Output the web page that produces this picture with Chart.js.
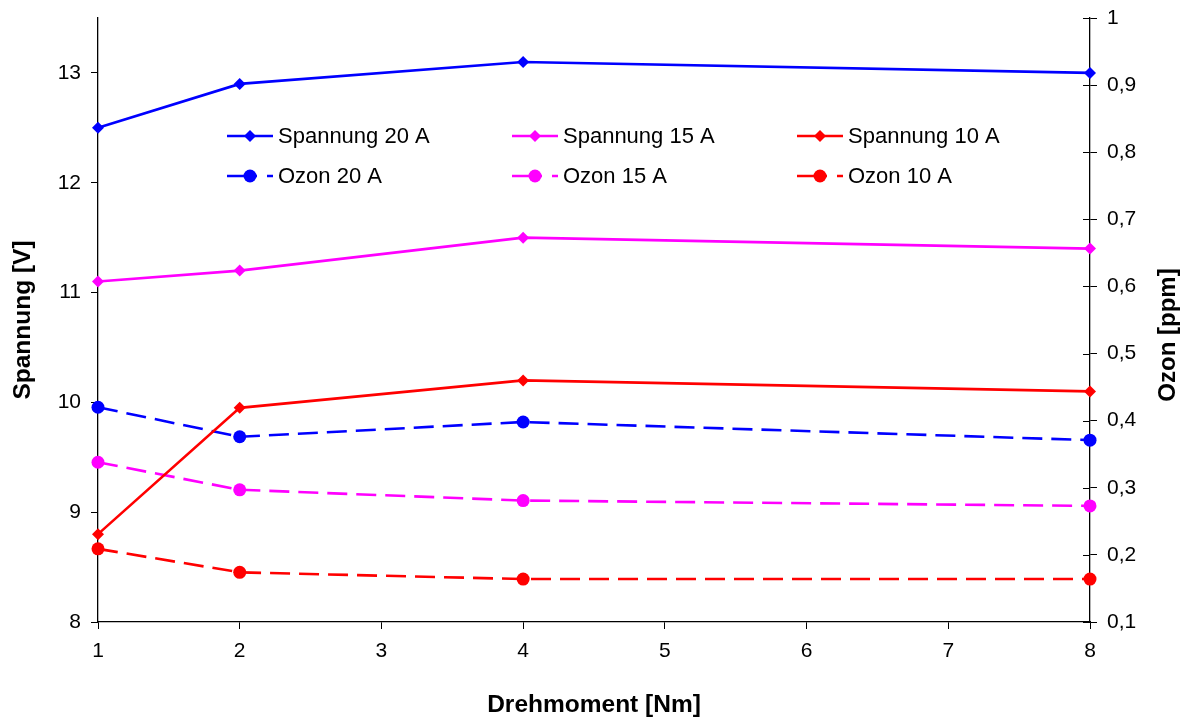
<!DOCTYPE html>
<html>
<head>
<meta charset="utf-8">
<script src="https://cdn.jsdelivr.net/npm/chart.js@4/dist/chart.umd.min.js"></script>
<style>
  html, body { margin: 0; padding: 0; background: #fff; }
  #wrap { width: 1184px; height: 719px; position: relative; }
</style>
</head>
<body>
<div id="wrap"><canvas id="c"></canvas></div>
<script>
// Torque steps (Nm)
const torque = [1, 2, 4, 8];

// Voltage (V), left axis
const spannung20 = [12.5, 12.9, 13.1, 13.0];
const spannung15 = [11.1, 11.2, 11.5, 11.4];
const spannung10 = [8.8, 9.95, 10.2, 10.1];

// Ozone (ppm), right axis
const ozon20 = [0.42, 0.376, 0.398, 0.371];
const ozon15 = [0.338, 0.297, 0.281, 0.273];
const ozon10 = [0.209, 0.174, 0.164, 0.164];

const seriesNames = ['Spannung 20 A', 'Spannung 15 A', 'Spannung 10 A', 'Ozon 20 A', 'Ozon 15 A', 'Ozon 10 A'];
const leftTicks = [8, 9, 10, 11, 12, 13];
const rightTicks = [0.1, 0.2, 0.3, 0.4, 0.5, 0.6, 0.7, 0.8, 0.9, 1];
const titles = { x: 'Drehmoment [Nm]', y: 'Spannung [V]', y1: 'Ozon [ppm]' };

const BLUE = '#0000FF', MAGENTA = '#FF00FF', RED = '#FF0000';
const FONT = 'Liberation Sans, Arial, sans-serif';
const DASH = [20, 9];

function pts(vals) { return vals.map((v, i) => ({ x: torque[i], y: v })); }

function voltSet(label, vals, color) {
  return {
    label, data: pts(vals), yAxisID: 'y',
    borderColor: color, backgroundColor: color, borderWidth: 2.6,
    pointStyle: 'rectRot', pointRadius: 6, pointBorderWidth: 0,
    tension: 0, fill: false, clip: false
  };
}
function ozonSet(label, vals, color) {
  return {
    label, data: pts(vals), yAxisID: 'y1',
    borderColor: color, backgroundColor: color, borderWidth: 2.6,
    borderDash: DASH,
    pointStyle: 'circle', pointRadius: 6.5, pointBorderWidth: 0,
    tension: 0, fill: false, clip: false
  };
}

// Legend in two rows of three, crossing ticks on the right axis, axis titles
const extras = {
  id: 'extras',
  afterDraw(chart) {
    const ctx = chart.ctx;
    const colX = [227, 512, 797];
    const rowY = [136, 176];
    ctx.save();
    chart.data.datasets.forEach((ds, i) => {
      const col = i % 3, row = Math.floor(i / 3);
      const x0 = colX[col], y = rowY[row];
      ctx.strokeStyle = ds.borderColor;
      ctx.fillStyle = ds.borderColor;
      ctx.lineWidth = ds.borderWidth;
      ctx.setLineDash(ds.borderDash ? [30, 10, 6, 100] : []);
      ctx.beginPath();
      ctx.moveTo(x0, y);
      ctx.lineTo(x0 + 46, y);
      ctx.stroke();
      ctx.setLineDash([]);
      Chart.helpers.drawPoint(ctx, { pointStyle: ds.pointStyle, radius: ds.pointRadius, borderWidth: 0 }, x0 + 23, y);
      ctx.fillStyle = '#000';
      ctx.font = '22px ' + FONT;
      ctx.textBaseline = 'middle';
      ctx.textAlign = 'left';
      ctx.fillText(ds.label, x0 + 51, y + 1);
    });

    // inner half of the right axis ticks
    const r = chart.scales.y1;
    ctx.strokeStyle = '#000';
    ctx.lineWidth = 1;
    r.ticks.forEach(t => {
      const py = Math.round(r.getPixelForValue(t.value)) + 0.5;
      ctx.beginPath();
      ctx.moveTo(r.left - 7, py);
      ctx.lineTo(r.left, py);
      ctx.stroke();
    });

    // axis titles
    const ca = chart.chartArea;
    ctx.fillStyle = '#000';
    ctx.font = 'bold 24.5px ' + FONT;
    ctx.textAlign = 'center';
    ctx.textBaseline = 'middle';
    ctx.fillText(titles.x, (ca.left + ca.right) / 2, 705);

    ctx.save();
    ctx.translate(23, (ca.top + ca.bottom) / 2);
    ctx.rotate(-Math.PI / 2);
    ctx.fillText(titles.y, 0, 0);
    ctx.restore();

    ctx.save();
    ctx.translate(1168, 335);
    ctx.rotate(-Math.PI / 2);
    ctx.font = 'bold 24px ' + FONT;
    ctx.fillText(titles.y1, 0, 0);
    ctx.restore();

    ctx.restore();
  }
};

function fixVertical(width) {
  return s => { s.width = width; s.paddingTop = 0; s.paddingBottom = 0; };
}

new Chart(document.getElementById('c'), {
  type: 'line',
  data: {
    datasets: [
      voltSet(seriesNames[0], spannung20, BLUE),
      voltSet(seriesNames[1], spannung15, MAGENTA),
      voltSet(seriesNames[2], spannung10, RED),
      ozonSet(seriesNames[3], ozon20, BLUE),
      ozonSet(seriesNames[4], ozon15, MAGENTA),
      ozonSet(seriesNames[5], ozon10, RED)
    ]
  },
  options: {
    responsive: true,
    maintainAspectRatio: false,
    animation: false,
    layout: { padding: { top: 18, left: 0, right: 0, bottom: 0 } },
    plugins: { legend: { display: false }, tooltip: { enabled: false } },
    scales: {
      x: {
        type: 'linear', min: 1, max: 8,
        afterFit(s) { s.height = 97; s.paddingLeft = 0; s.paddingRight = 0; },
        border: { display: true, color: '#000', width: 1.3 },
        grid: { display: true, drawOnChartArea: false, drawTicks: true, tickLength: 7, color: '#000' },
        ticks: { stepSize: 1, color: '#000', font: { family: FONT, size: 21 }, padding: 10, maxRotation: 0 }
      },
      y: {
        position: 'left', min: 8, max: 13.5,
        afterFit: fixVertical(98),
        afterBuildTicks(s) { s.ticks = leftTicks.map(v => ({ value: v })); },
        border: { display: true, color: '#000', width: 1.3 },
        grid: { display: true, drawOnChartArea: false, drawTicks: true, tickLength: 7, color: '#000' },
        ticks: { color: '#000', font: { family: FONT, size: 21 }, padding: 10 }
      },
      y1: {
        position: 'right', min: 0.1, max: 1,
        afterFit: fixVertical(94),
        afterBuildTicks(s) { s.ticks = rightTicks.map(v => ({ value: v })); },
        border: { display: true, color: '#000', width: 1.3 },
        grid: { display: true, drawOnChartArea: false, drawTicks: true, tickLength: 7, color: '#000' },
        ticks: {
          color: '#000', font: { family: FONT, size: 21 }, padding: 10,
          callback: v => String(Math.round(v * 10) / 10).replace('.', ',')
        }
      }
    }
  },
  plugins: [extras]
});
</script>
</body>
</html>
